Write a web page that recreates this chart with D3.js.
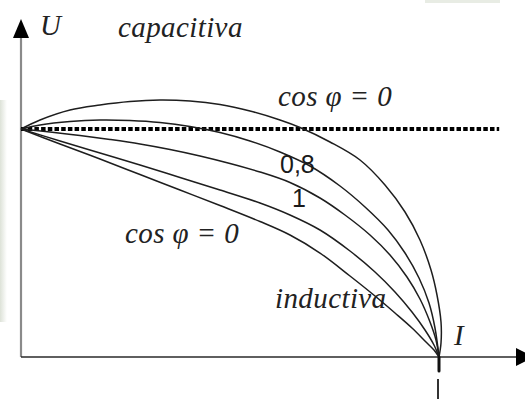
<!DOCTYPE html>
<html>
<head>
<meta charset="utf-8">
<script src="https://cdn.jsdelivr.net/npm/d3@7"></script>
<style>
  html, body { margin: 0; padding: 0; background: #fff; }
  svg { display: block; }
  .lbl { font-family: "Liberation Serif", "Times New Roman", serif; font-style: italic; fill: #222; letter-spacing: 0.4px; }
  .num { font-family: "Liberation Sans", Arial, sans-serif; fill: #1a1a1a; }
</style>
</head>
<body>
<svg id="chart" width="525" height="399"></svg>
<script>
// Generator external characteristic U = f(I), in % of E (voltage) and % of Ik (current)
const seriesNames = ["cap0", "pf08", "pf1", "ind08", "ind0"];

const capacitive0I = [0, 4.55, 11.72, 18.90, 26.08, 33.25, 40.43, 47.61, 54.78, 61.96, 66.75, 73.92, 81.10, 87.08, 91.87, 95.45, 98.09, 99.52, 100.48, 100.48, 100];
const capacitive0U = [100, 103.95, 108.33, 110.53, 112.06, 112.72, 112.28, 110.75, 107.89, 103.95, 100.66, 94.30, 86.40, 75.44, 63.60, 51.32, 38.16, 27.19, 15.35, 6.14, 0];

const pf08I = [0, 4.55, 11.72, 18.90, 26.08, 33.25, 40.43, 47.61, 54.78, 61.96, 69.14, 76.32, 82.30, 87.80, 91.87, 95.22, 97.61, 99.04, 100];
const pf08U = [100, 101.75, 103.29, 103.95, 103.73, 102.85, 101.10, 98.46, 94.74, 89.91, 83.77, 75.00, 65.79, 55.70, 45.61, 34.65, 23.68, 12.72, 0];

const pf1I = [0, 6.94, 14.11, 21.29, 28.47, 35.65, 42.82, 50.00, 57.18, 64.35, 71.53, 77.51, 83.49, 88.28, 92.34, 95.45, 97.85, 99.28, 100];
const pf1U = [100, 98.68, 97.15, 95.39, 93.42, 91.01, 88.16, 84.87, 81.14, 76.54, 69.74, 62.28, 53.51, 44.74, 35.09, 25.44, 15.35, 7.46, 0];

const inductive08I = [0, 9.33, 18.90, 28.47, 38.04, 47.61, 57.18, 64.35, 71.53, 78.71, 84.69, 89.47, 93.54, 96.65, 98.80, 100];
const inductive08U = [100, 94.74, 89.47, 84.21, 78.73, 73.25, 67.54, 62.28, 55.70, 46.49, 37.28, 28.51, 19.74, 11.84, 5.26, 0];

const inductive0I = [0, 9.33, 18.90, 28.47, 38.04, 47.61, 57.18, 64.35, 71.53, 78.71, 84.69, 89.47, 93.54, 96.89, 98.80, 100];
const inductive0U = [100, 93.42, 86.84, 80.04, 73.25, 66.45, 59.43, 53.51, 45.61, 35.53, 26.75, 19.30, 12.72, 6.58, 3.07, 0];

// Rated voltage reference line (U = E) and its extent in current
const ratedU = 100;
const ratedLineI = [0, 114.4];

// Short-circuit current marker on the I axis
const shortCircuitI = 100;

const svg = d3.select("#chart");

const x = d3.scaleLinear().domain([0, 100]).range([21, 439]);
const y = d3.scaleLinear().domain([0, 100]).range([357, 129]);

// faint paper tint along the edges
const tint = svg.append("defs").append("linearGradient").attr("id", "edge").attr("x1", 0).attr("x2", 1);
tint.append("stop").attr("offset", 0).attr("stop-color", "#dde2d8");
tint.append("stop").attr("offset", 1).attr("stop-color", "#ffffff");
svg.append("rect").attr("x", 0).attr("y", 100).attr("width", 7).attr("height", 222)
  .attr("fill", "url(#edge)");
svg.append("rect").attr("x", 425).attr("y", 0).attr("width", 75).attr("height", 3)
  .attr("fill", "#e8ece4");

// axes
svg.append("line")
  .attr("x1", x(0)).attr("x2", x(0))
  .attr("y1", y(0)).attr("y2", 36)
  .attr("stroke", "#8a8a8a").attr("stroke-width", 2.2);
svg.append("path")
  .attr("d", `M${x(0)},19 L${x(0) - 8},38 L${x(0) + 8},38 Z`)
  .attr("fill", "#000");

svg.append("line")
  .attr("x1", x(0)).attr("x2", 518)
  .attr("y1", y(0)).attr("y2", y(0))
  .attr("stroke", "#2a2a2a").attr("stroke-width", 1.6);
svg.append("path")
  .attr("d", `M516,${y(0) - 9} L534,${y(0)} L516,${y(0) + 9} Z`)
  .attr("fill", "#000");

// tick for short-circuit current
svg.append("line")
  .attr("x1", x(shortCircuitI) - 1).attr("x2", x(shortCircuitI) - 1)
  .attr("y1", 379).attr("y2", 399)
  .attr("stroke", "#333").attr("stroke-width", 2);

// rated voltage dotted line
svg.append("line")
  .attr("x1", x(ratedLineI[0])).attr("x2", x(ratedLineI[1]))
  .attr("y1", y(ratedU)).attr("y2", y(ratedU))
  .attr("stroke", "#000").attr("stroke-width", 4.2)
  .attr("stroke-dasharray", "4.5,2.2");

// characteristic curves
const curves = [
  [capacitive0I, capacitive0U],
  [pf08I, pf08U],
  [pf1I, pf1U],
  [inductive08I, inductive08U],
  [inductive0I, inductive0U]
];
const line = d3.line()
  .x(d => x(d[0])).y(d => y(d[1]))
  .curve(d3.curveCatmullRom.alpha(0.5));

svg.append("g").selectAll("path")
  .data(curves.map((c, k) => ({ name: seriesNames[k], pts: c[0].map((v, i) => [v, c[1][i]]) })))
  .join("path")
  .attr("class", d => d.name)
  .attr("d", d => line(d.pts))
  .attr("fill", "none")
  .attr("stroke", "#1e1e1e")
  .attr("stroke-width", 1.5);

// convergence stub just below the axis
svg.append("line")
  .attr("x1", x(shortCircuitI)).attr("x2", x(shortCircuitI))
  .attr("y1", y(0)).attr("y2", y(0) + 14)
  .attr("stroke", "#111").attr("stroke-width", 3).attr("stroke-linecap", "round");

// labels
const t = (cls, txt, px, py, size) => svg.append("text")
  .attr("class", cls).attr("x", px).attr("y", py)
  .attr("font-size", size).text(txt);

t("lbl", "U", 40, 35, 29);
t("lbl", "capacitiva", 118, 37, 29);
t("lbl", "cos φ = 0", 278, 106, 29);
t("lbl", "cos φ = 0", 125, 243, 29);
t("num", "0,8", 280, 173, 25);
t("num", "1", 292, 207, 25);
t("lbl", "inductiva", 275, 308, 29);
t("lbl", "I", 454, 345, 29);
</script>
</body>
</html>
